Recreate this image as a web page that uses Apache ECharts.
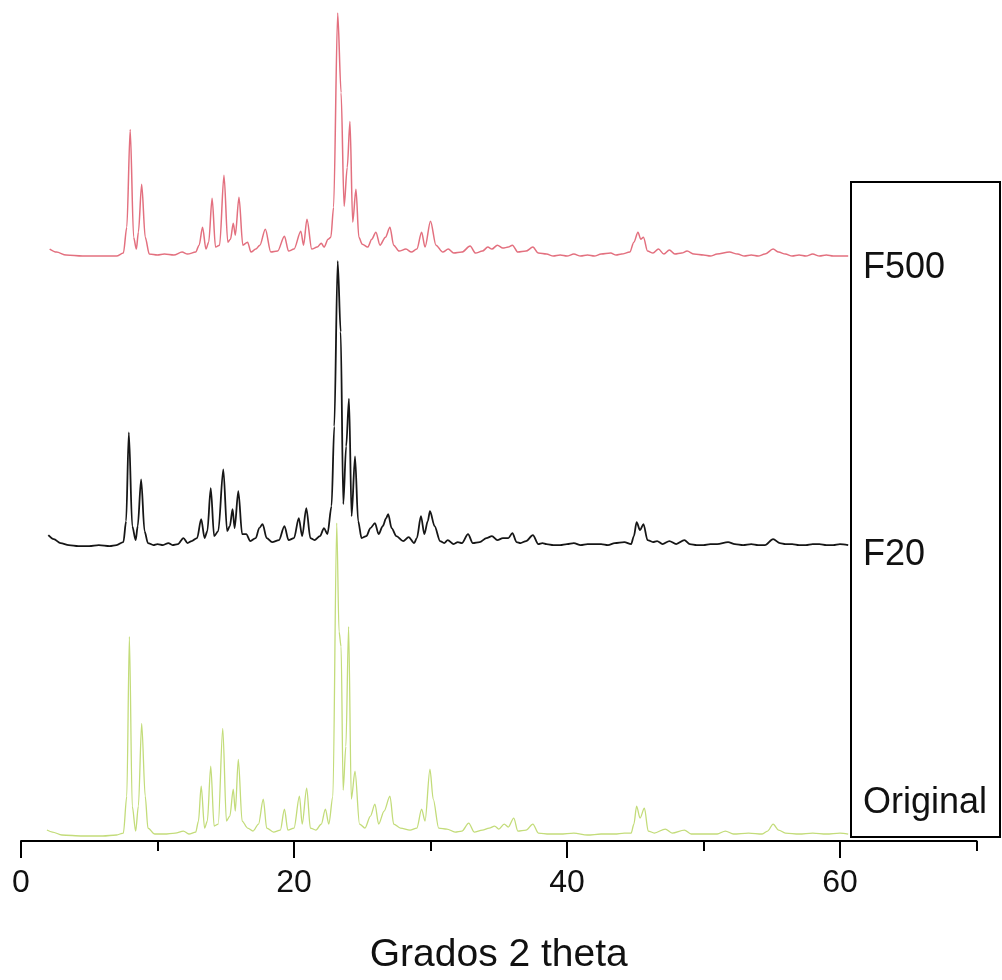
<!DOCTYPE html>
<html><head><meta charset="utf-8">
<script src="https://cdn.jsdelivr.net/npm/echarts@6/dist/echarts.min.js"></script>
<style>html,body{margin:0;padding:0;background:#fff}#c{width:1002px;height:980px}</style>
</head><body><div id="c"></div>
<script>
// XRD patterns: [2theta (deg), intensity above own baseline (arb. units)]
const seriesNames = ['F500', 'F20', 'Original'];

const f500 = [[2.1,8],[2.6,5],[3.3,2],[4.5,1],[6.0,1],[7.0,1],[7.5,4],[7.75,30],[8.0,128],[8.25,20],[8.45,8],[8.6,25],[8.84,73],[9.1,20],[9.4,3],[10.0,2],[10.5,3],[11.2,2],[11.8,5],[12.2,3],[12.8,5],[13.05,12],[13.3,30],[13.55,8],[13.75,15],[14.0,59],[14.25,10],[14.55,12],[14.87,82],[15.15,15],[15.35,18],[15.55,34],[15.7,22],[15.97,60],[16.25,12],[16.6,15],[16.85,5],[17.2,8],[17.5,12],[17.9,28],[18.3,5],[18.8,6],[19.3,21],[19.6,6],[20.0,8],[20.5,26],[20.7,12],[20.95,38],[21.3,8],[21.7,10],[22.0,14],[22.2,10],[22.5,18],[22.7,20],[22.9,50],[23.2,245],[23.45,165],[23.67,51],[23.9,90],[24.1,136],[24.3,35],[24.54,68],[24.75,20],[25.0,13],[25.4,10],[25.7,18],[26.0,25],[26.3,12],[26.7,20],[27.03,30],[27.3,12],[27.7,6],[28.2,8],[28.6,5],[29.0,8],[29.35,25],[29.6,10],[30.0,36],[30.4,12],[30.9,5],[31.3,8],[31.7,4],[32.3,5],[32.9,11],[33.3,4],[33.8,6],[34.2,10],[34.5,8],[34.9,12],[35.3,9],[35.7,10],[36.0,12],[36.4,5],[37.0,6],[37.5,10],[37.9,4],[38.5,3],[39.0,1],[39.5,2],[40.0,1],[40.5,3],[41.0,1],[41.5,2],[42.0,1],[42.5,3],[43.2,4],[43.6,2],[44.0,3],[44.6,5],[44.9,15],[45.2,25],[45.4,18],[45.6,20],[45.9,6],[46.3,4],[46.7,8],[47.1,3],[47.5,7],[47.9,3],[48.4,4],[48.8,6],[49.3,3],[50.0,2],[50.5,1],[51.0,3],[51.9,5],[52.5,3],[53.0,1],[53.5,2],[54.0,1],[54.5,3],[55.1,8],[55.5,5],[56.0,3],[56.5,1],[57.0,2],[57.5,1],[58.0,3],[58.5,1],[59.0,2],[59.5,1],[60.0,1],[60.6,1]];

const f20 = [[2.0,11],[2.4,7],[2.9,3],[3.5,1],[4.2,0],[5.0,0],[5.7,1],[6.5,0],[7.0,1],[7.5,4],[7.7,25],[7.9,114],[8.15,20],[8.4,6],[8.55,20],[8.8,67],[9.05,15],[9.3,3],[9.7,1],[10.0,2],[10.4,1],[10.8,3],[11.1,1],[11.5,2],[11.9,8],[12.2,3],[12.5,5],[12.9,8],[13.2,27],[13.45,8],[13.65,15],[13.9,58],[14.15,10],[14.45,15],[14.82,77],[15.1,15],[15.3,20],[15.5,37],[15.65,18],[15.92,55],[16.2,12],[16.5,12],[16.8,5],[17.2,8],[17.45,18],[17.7,22],[18.0,8],[18.4,4],[18.9,6],[19.3,20],[19.6,6],[20.0,8],[20.35,28],[20.6,10],[20.9,38],[21.2,8],[21.5,6],[21.9,10],[22.2,18],[22.45,12],[22.75,40],[22.95,120],[23.2,286],[23.42,215],[23.61,42],[23.82,100],[24.03,148],[24.22,30],[24.47,90],[24.7,25],[24.95,8],[25.3,10],[25.6,18],[25.93,23],[26.2,12],[26.5,20],[26.75,28],[26.9,32],[27.15,18],[27.5,10],[28.0,5],[28.4,9],[28.8,3],[29.0,8],[29.3,30],[29.55,12],[29.8,25],[29.96,35],[30.3,20],[30.7,5],[31.0,3],[31.26,6],[31.7,2],[32.0,4],[32.3,3],[32.75,12],[33.1,3],[33.6,4],[34.1,8],[34.5,10],[34.9,6],[35.3,8],[35.7,8],[36.0,13],[36.3,4],[36.6,3],[37.0,5],[37.5,11],[37.9,2],[38.2,3],[38.5,2],[39.0,1],[39.5,1],[40.0,2],[40.5,3],[41.0,1],[41.5,2],[42.0,2],[42.5,2],[43.0,1],[43.5,3],[44.2,4],[44.7,2],[44.9,10],[45.1,24],[45.35,16],[45.6,22],[45.9,6],[46.3,4],[46.6,5],[47.0,2],[47.5,5],[48.0,2],[48.6,6],[49.0,2],[49.5,1],[50.0,1],[50.5,2],[51.0,2],[51.8,4],[52.3,2],[52.9,1],[53.5,2],[54.0,1],[54.5,1],[55.1,7],[55.6,3],[56.0,2],[56.5,2],[57.0,1],[57.5,1],[58.0,2],[58.5,2],[59.0,1],[59.5,1],[60.0,2],[60.6,1]];

const original = [[1.9,6],[2.3,4],[3.0,1],[4.5,0],[6.0,0],[7.0,1],[7.5,3],[7.75,40],[7.94,200],[8.15,30],[8.4,5],[8.6,30],[8.84,113],[9.1,40],[9.3,8],[9.8,2],[10.5,2],[11.3,3],[11.9,5],[12.3,2],[12.8,4],[13.0,15],[13.2,50],[13.45,8],[13.65,15],[13.9,70],[14.15,10],[14.45,12],[14.78,108],[15.05,15],[15.3,20],[15.55,47],[15.7,25],[15.92,77],[16.2,15],[16.6,8],[17.0,5],[17.4,12],[17.75,37],[18.0,8],[18.5,4],[19.0,6],[19.3,27],[19.55,6],[20.0,8],[20.4,40],[20.6,12],[20.93,48],[21.2,8],[21.6,6],[22.0,12],[22.3,27],[22.55,12],[22.85,40],[23.13,314],[23.3,205],[23.45,190],[23.6,46],[23.8,90],[24.0,210],[24.2,37],[24.47,65],[24.8,12],[25.2,8],[25.6,20],[25.93,32],[26.2,12],[26.6,25],[27.03,40],[27.3,12],[27.8,8],[28.5,6],[29.0,8],[29.35,27],[29.6,15],[29.96,67],[30.2,37],[30.6,8],[31.2,7],[31.8,4],[32.3,5],[32.8,13],[33.2,4],[33.8,6],[34.3,8],[34.7,10],[35.0,7],[35.4,12],[35.7,9],[36.1,18],[36.4,5],[37.0,6],[37.5,12],[37.9,3],[38.7,2],[39.5,2],[40.5,3],[41.5,1],[42.5,2],[43.5,2],[44.2,3],[44.7,3],[44.9,12],[45.1,30],[45.35,18],[45.67,28],[45.95,5],[46.4,3],[47.2,7],[47.7,3],[48.6,6],[49.1,2],[50.0,2],[51.0,2],[51.6,5],[52.2,2],[53.3,3],[54.3,2],[54.7,5],[55.1,12],[55.5,6],[56.0,3],[57.0,2],[58.0,3],[59.0,2],[60.0,3],[60.6,2]];

const xMajorTicks = [0, 20, 40, 60];
const xMinorTicks = [10, 30, 50, 70];

// vertical stacking offsets (display only)
const stackOffset = { F500: 586, F20: 296, Original: 5 };
const lineColor = { F500: '#e3707f', F20: '#161616', Original: '#c3dc7a' };
const lineWidth = { F500: 1.5, F20: 1.8, Original: 1.3 };
const dataByName = { F500: f500, F20: f20, Original: original };

const FONT = "'Liberation Sans', Arial, Helvetica, sans-serif";
const chart = echarts.init(document.getElementById('c'), null, { renderer: 'canvas' });

const series = seriesNames.map(n => ({
  name: n,
  type: 'line',
  xAxisIndex: 0,
  data: dataByName[n].map(p => [p[0], p[1] + stackOffset[n]]),
  showSymbol: false,
  symbol: 'none',
  smooth: 0.3,
  smoothMonotone: 'x',
  silent: true,
  clip: false,
  lineStyle: { color: lineColor[n], width: lineWidth[n] },
  z: n === 'F20' ? 3 : 2
}));

const labelY = { F500: 268, F20: 555, Original: 803 };

chart.setOption({
  animation: false,
  backgroundColor: '#fff',
  grid: { left: 21, right: 25.5, top: 0, bottom: 136, containLabel: false },
  xAxis: [{
    type: 'value', min: 0, max: 70,
    position: 'bottom',
    axisLine: { show: true, onZero: false, lineStyle: { color: '#000', width: 2 } },
    axisTick: { show: true, customValues: xMajorTicks, length: 17, lineStyle: { color: '#000', width: 2 } },
    axisLabel: { show: true, customValues: xMajorTicks, fontSize: 32, color: '#111', fontFamily: FONT, margin: 26 },
    splitLine: { show: false },
    name: 'Grados 2 theta', nameLocation: 'middle', nameGap: 95,
    nameTextStyle: { fontSize: 39, color: '#111', fontFamily: FONT }
  }, {
    type: 'value', min: 0, max: 70,
    position: 'bottom',
    axisLine: { show: false, onZero: false },
    axisTick: { show: true, customValues: xMinorTicks, length: 10, lineStyle: { color: '#000', width: 2 } },
    axisLabel: { show: false },
    splitLine: { show: false }
  }],
  yAxis: { type: 'value', min: 0, max: 844, show: false },
  series: series,
  graphic: [
    { type: 'rect', shape: { x: 851, y: 182, width: 149, height: 655 },
      style: { fill: 'transparent', stroke: '#000', lineWidth: 2 }, z: 100, silent: true },
  ].concat(seriesNames.map(n => ({
    type: 'text', x: 863, y: labelY[n], z: 101, silent: true,
    style: { text: n, fill: '#111', font: '36px ' + FONT, verticalAlign: 'middle', align: 'left' }
  })))
});
</script>
</body></html>
